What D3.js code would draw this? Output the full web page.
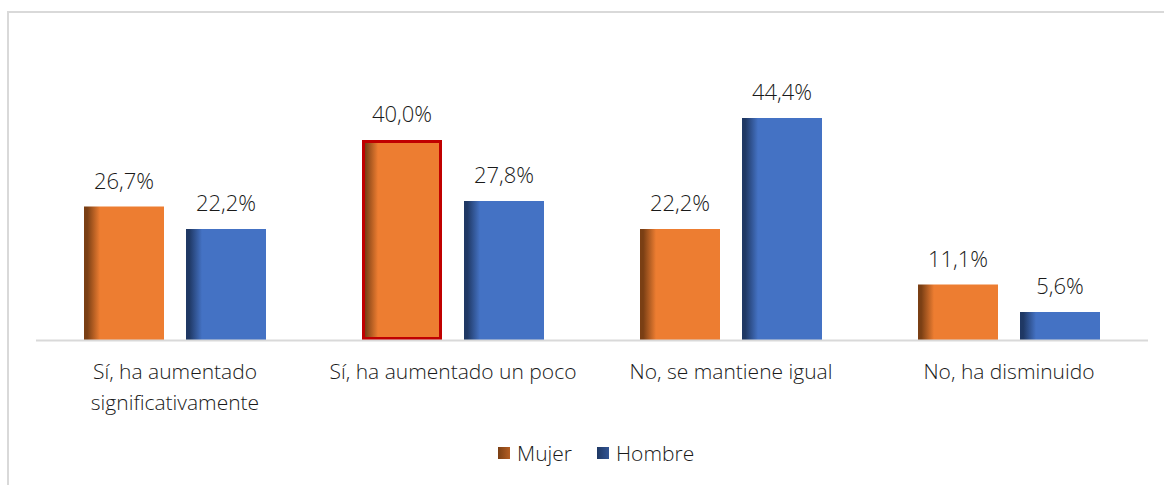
<!DOCTYPE html>
<html>
<head>
<meta charset="utf-8">
<script src="https://cdn.jsdelivr.net/npm/d3@7"></script>
<style>
  body { margin: 0; background: #fff; }
  text { font-family: "Open Sans", sans-serif; font-weight: 300; fill: #1a1a1a; }
</style>
</head>
<body>
<div id="chart"></div>
<script>
var categories = ["Sí, ha aumentado significativamente", "Sí, ha aumentado un poco", "No, se mantiene igual", "No, ha disminuido"];
var seriesNames = ["Mujer", "Hombre"];
var mujer = [26.7, 40.0, 22.2, 11.1];
var hombre = [22.2, 27.8, 44.4, 5.6];
var labelLines = [["Sí, ha aumentado", "significativamente"], ["Sí, ha aumentado un poco"], ["No, se mantiene igual"], ["No, ha disminuido"]];

var width = 1164, height = 485;

var svg = d3.select("#chart").append("svg")
  .attr("width", width)
  .attr("height", height);

var defs = svg.append("defs");
var colors = { Mujer: ["#7a3f14", "#ED7D31"], Hombre: ["#1f3864", "#4472C4"] };
seriesNames.forEach(function(s) {
  var g = defs.append("linearGradient").attr("id", "grad_" + s)
    .attr("x1", "0%").attr("x2", "100%").attr("y1", "0%").attr("y2", "0%");
  g.append("stop").attr("offset", "0%").attr("stop-color", colors[s][0]);
  g.append("stop").attr("offset", "4%").attr("stop-color", colors[s][0]);
  g.append("stop").attr("offset", "20%").attr("stop-color", colors[s][1]);
  g.append("stop").attr("offset", "100%").attr("stop-color", colors[s][1]);
  var lg = defs.append("linearGradient").attr("id", "leg_" + s)
    .attr("x1", "0%").attr("x2", "100%");
  lg.append("stop").attr("offset", "0%").attr("stop-color", colors[s][0]);
  lg.append("stop").attr("offset", "100%").attr("stop-color", d3.interpolateRgb(colors[s][0], colors[s][1])(0.5));
});

// chart frame (only left and top are visible in the crop)
svg.append("rect")
  .attr("x", 8).attr("y", 12)
  .attr("width", 1170).attr("height", 490)
  .attr("fill", "none")
  .attr("stroke", "#d9d9d9")
  .attr("stroke-width", 2);

var x0 = d3.scaleBand().domain(categories).range([36, 1148]);
var x1 = d3.scaleBand().domain(seriesNames).range([0, 182]).paddingInner(0.2157);
var y = d3.scaleLinear().domain([0, 40]).range([340, 140]);

var data = categories.map(function(c, i) {
  return { cat: c, i: i, vals: [{ s: "Mujer", v: mujer[i] }, { s: "Hombre", v: hombre[i] }] };
});

var groups = svg.selectAll(".cat").data(data).enter().append("g")
  .attr("transform", function(d) { return "translate(" + (x0(d.cat) + (x0.bandwidth() - 182) / 2) + ",0)"; });

groups.selectAll("rect").data(function(d) { return d.vals.map(function(v) { return { s: v.s, v: v.v, i: d.i }; }); })
  .enter().append("rect")
  .attr("x", function(d) { return x1(d.s); })
  .attr("y", function(d) { return y(d.v); })
  .attr("width", x1.bandwidth())
  .attr("height", function(d) { return y(0) - y(d.v); })
  .attr("fill", function(d) { return "url(#grad_" + d.s + ")"; });

// highlighted bar
groups.filter(function(d) { return d.i === 1; }).append("rect")
  .attr("x", x1("Mujer") + 1.5)
  .attr("y", y(mujer[1]) + 1.5)
  .attr("width", x1.bandwidth() - 3)
  .attr("height", y(0) - y(mujer[1]) - 3)
  .attr("fill", "none")
  .attr("stroke", "#C00000")
  .attr("stroke-width", 3);

var fmt = function(v) { return d3.format(".1f")(v).replace(".", ",") + "%"; };

groups.selectAll(".lbl").data(function(d) { return d.vals; })
  .enter().append("text")
  .attr("x", function(d) { return x1(d.s) + x1.bandwidth() / 2; })
  .attr("y", function(d) { return y(d.v) - 18; })
  .attr("text-anchor", "middle")
  .style("font-size", "22px")
  .text(function(d) { return fmt(d.v); });

// axis line
svg.append("line")
  .attr("x1", 36).attr("x2", 1148)
  .attr("y1", 340.5).attr("y2", 340.5)
  .attr("stroke", "#d9d9d9").attr("stroke-width", 2);

// category labels
groups.each(function(d) {
  var t = d3.select(this).append("text")
    .attr("x", 91)
    .attr("y", 379)
    .attr("text-anchor", "middle")
    .style("font-size", "21px");
  labelLines[d.i].forEach(function(line, k) {
    t.append("tspan").attr("x", 91).attr("dy", k === 0 ? 0 : 31).text(line);
  });
});

// legend
var legend = svg.append("g");
var legX = [498, 597];
seriesNames.forEach(function(s, k) {
  legend.append("rect")
    .attr("x", legX[k]).attr("y", 447)
    .attr("width", 12).attr("height", 12)
    .attr("fill", "url(#leg_" + s + ")");
  legend.append("text")
    .attr("x", legX[k] + 19).attr("y", 461)
    .style("font-size", "21px")
    .text(s);
});
</script>
</body>
</html>
